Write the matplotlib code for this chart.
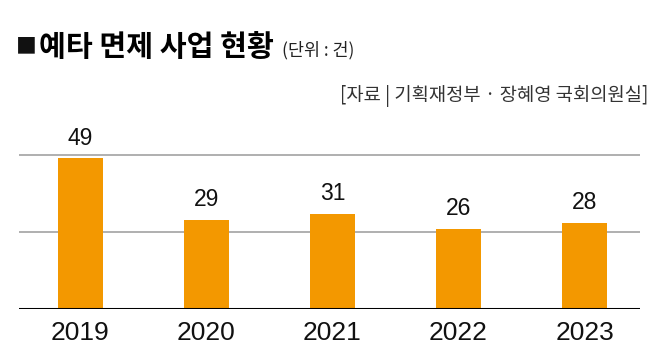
import matplotlib
matplotlib.use('Agg')
import matplotlib.pyplot as plt
from matplotlib import font_manager

years = ['2019', '2020', '2021', '2022', '2023']
counts = [49, 29, 31, 26, 28]
grid_values = [25, 50]

title = '예타 면제 사업 현황'
unit = '(단위 : 건)'
source = '[자료 | 기획재정부 · 장혜영 국회의원실]'

W, H = 658, 362
plt.rcParams['font.family'] = ['Noto Sans CJK KR', 'DejaVu Sans']

names = {f.name for f in font_manager.fontManager.ttflist}
year_font = 'Liberation Sans Narrow' if 'Liberation Sans Narrow' in names else 'Liberation Sans'
year_size = 22 if year_font == 'Liberation Sans Narrow' else 19

fig = plt.figure(figsize=(W / 100, H / 100), dpi=100)
ax = fig.add_axes([19 / W, (H - 309) / H, (640 - 19) / W, 169 / H])

x = list(range(len(years)))
ax.bar(x, counts, width=0.355, color='#F39800', zorder=2)
for v in grid_values:
    ax.axhline(v, color='#9a9a9a', lw=1.1, zorder=1)
ax.axhline(0, color='black', lw=2.2, zorder=3)

for i, v in enumerate(counts):
    ax.text(i, v + 2.8, str(v), ha='center', va='bottom', fontsize=16.5,
            family=['Liberation Sans', 'DejaVu Sans'], color='#111111')

ax.set_xlim(-0.487, 4.44)
ax.set_ylim(0, 54.9)
ax.set_xticks(x)
ax.set_xticklabels(years, fontsize=year_size, family=[year_font, 'DejaVu Sans'], color='#111111')
ax.tick_params(axis='x', length=0, pad=9)
ax.set_yticks([])
for s in ax.spines.values():
    s.set_visible(False)

fig.text(16 / W, 1 - 52 / H, '■', fontsize=15, va='baseline', ha='left', color='#111111')
t = fig.text(39 / W, 1 - 56 / H, title, fontsize=21, fontweight='bold', va='baseline', ha='left')
fig.canvas.draw()
bb = t.get_window_extent()
fig.text((bb.x1 + 8) / W, 1 - 55 / H, unit, fontsize=12.5, va='baseline', ha='left', color='#222222')
fig.text(648 / W, 1 - 96 / H, source, fontsize=13.5, va='center', ha='right', color='#333333')

fig.savefig('out.png', dpi=100)
